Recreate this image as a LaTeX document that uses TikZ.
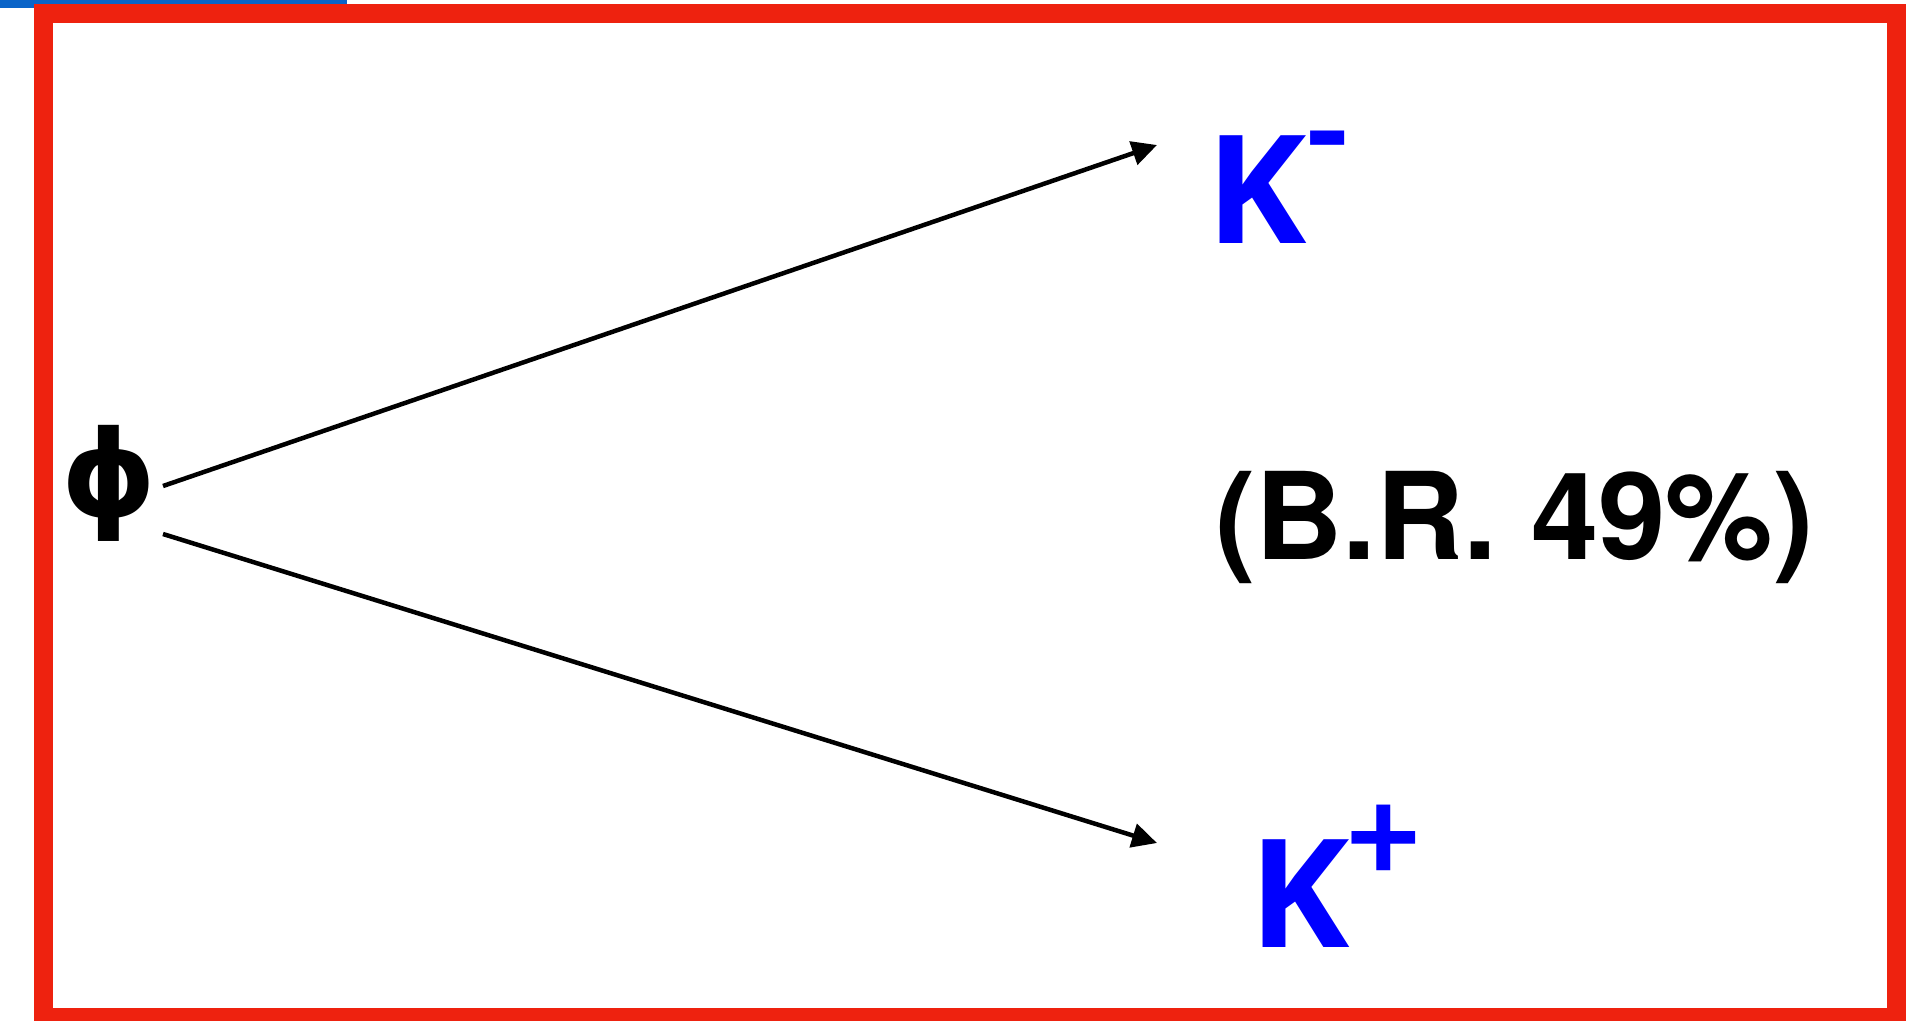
\documentclass[tikz,border=0pt]{standalone}
\usepackage{fontspec}
\setmainfont{Carlito}
\newfontfamily\helv{TeX Gyre Heros}
\newfontfamily\kfont{Open Sans}
\newfontfamily\phifont{DejaVu Sans}
\usetikzlibrary{arrows.meta,calc}
\definecolor{frame}{HTML}{EE220F}
\definecolor{topbar}{HTML}{0A64C8}
\definecolor{kaon}{HTML}{0000FF}
\tikzset{
  mother/.style={inner sep=0pt,font=\phifont\fontsize{120}{120}\selectfont\bfseries,text=black},
  particle/.style={inner sep=0pt,anchor=base west,font=\kfont\fontsize{151}{151}\selectfont\bfseries,text=kaon},
  ratio/.style={inner sep=0pt,anchor=base west,font=\helv\fontsize{121}{121}\selectfont\bfseries,text=black},
  decay/.style={-{Triangle[length=25pt,width=24pt]},line width=4.5pt,draw=black},
}
\newcommand{\supsign}[2]{\raisebox{#1}{\rmfamily\fontsize{138}{138}\selectfont #2}}

\begin{document}
\begin{tikzpicture}[x=1pt,y=-1pt]
\useasboundingbox (0,0) rectangle (1922,1020);
\fill[topbar] (0,0) rectangle (347,8);
\draw[frame,line width=19pt] (43.5,13.5) rectangle (1896.5,1017.5);

\node[mother] (phi) at (109,483) {ϕ};
\node[particle] (km) at (1206,243) {K\supsign{66pt}{-}};
\node[particle] (kp) at (1249,947) {K\supsign{66pt}{+}};
\node[ratio] (br) at (1215,559) {(B.R. 49\%)};

\draw[decay] ($(phi.center)+(54,3)$) -- ($(km.base west)+(-49,-98)$);
\draw[decay] ($(phi.center)+(54,51)$) -- ($(kp.base west)+(-92,-104)$);

\end{tikzpicture}
\end{document}
